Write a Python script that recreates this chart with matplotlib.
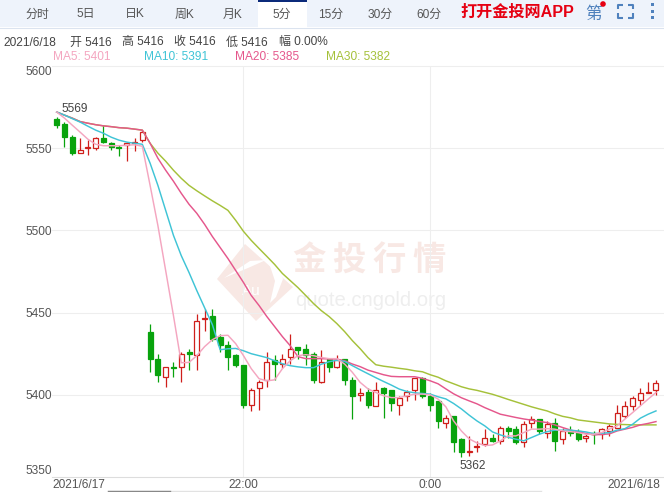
import matplotlib
matplotlib.use('Agg')
import matplotlib.pyplot as plt
from matplotlib.patches import Rectangle, Polygon, Circle

plt.rcParams['font.family'] = ['Liberation Sans', 'Noto Sans CJK SC', 'DejaVu Sans']

# candle values
opens = [5568, 5565, 5557, 5547, 5550, 5550, 5556, 5553, 5551, 5552, 5553, 5555, 5438, 5422, 5411, 5417, 5417, 5426, 5424, 5446,
         5448, 5435, 5430, 5424, 5418, 5394, 5404, 5409, 5421, 5419, 5423, 5429, 5428, 5425, 5408, 5422, 5417, 5422, 5409, 5400,
         5402, 5393, 5404, 5403, 5394, 5399, 5403, 5410, 5399, 5396, 5383, 5387, 5373, 5365, 5368, 5370, 5374, 5372, 5380, 5379,
         5371, 5383, 5385, 5377, 5383, 5373, 5378, 5378, 5374, 5377, 5376, 5378, 5380, 5387, 5393, 5397, 5401, 5403]
closes = [5564, 5557, 5547, 5549, 5551, 5556, 5554, 5551, 5550, 5553, 5554, 5560, 5422, 5412, 5417, 5416, 5425, 5425, 5445, 5447,
          5434, 5430, 5423, 5418, 5394, 5403, 5408, 5420, 5419, 5422, 5428, 5427, 5424, 5409, 5420, 5417, 5421, 5409, 5399, 5401,
          5394, 5403, 5401, 5395, 5398, 5402, 5410, 5399, 5394, 5384, 5386, 5371, 5365, 5366, 5369, 5374, 5372, 5380, 5378, 5371,
          5382, 5385, 5378, 5382, 5372, 5378, 5377, 5373, 5375, 5376, 5379, 5381, 5389, 5393, 5398, 5401, 5402, 5407]
highs = [5569, 5566, 5558, 5556, 5555, 5557, 5564, 5554, 5552, 5554, 5556, 5561, 5443, 5425, 5417, 5420, 5426, 5428, 5449, 5452,
         5452, 5437, 5433, 5425, 5418, 5404, 5409, 5426, 5424, 5425, 5437, 5429, 5431, 5426, 5427, 5422, 5424, 5422, 5411, 5404,
         5404, 5408, 5405, 5403, 5399, 5403, 5410, 5411, 5401, 5396, 5388, 5387, 5374, 5375, 5372, 5379, 5376, 5381, 5381, 5381,
         5384, 5387, 5385, 5384, 5386, 5380, 5381, 5379, 5376, 5378, 5380, 5382, 5394, 5396, 5399, 5404, 5408, 5409]
lows = [5562, 5551, 5546, 5547, 5546, 5549, 5553, 5549, 5545, 5542, 5548, 5554, 5414, 5408, 5405, 5411, 5408, 5415, 5415, 5439,
        5433, 5426, 5415, 5417, 5392, 5390, 5391, 5405, 5409, 5416, 5419, 5422, 5418, 5407, 5407, 5414, 5416, 5406, 5385, 5396,
        5392, 5393, 5386, 5390, 5388, 5396, 5397, 5398, 5390, 5380, 5380, 5365, 5362, 5363, 5365, 5369, 5371, 5370, 5374, 5370,
        5368, 5380, 5376, 5374, 5366, 5370, 5375, 5372, 5371, 5370, 5373, 5375, 5380, 5386, 5391, 5394, 5401, 5400]

ma5 = [5572, 5568.3, 5564, 5559.8, 5555.5, 5552.4, 5551.5, 5551.5, 5551.5, 5551.8, 5552.1, 5551.2, 5527.4, 5503, 5475.6, 5448.2,
       5419.5, 5419.7, 5423.8, 5429.3, 5433.5, 5436, 5436.2, 5431.1, 5423.8, 5415.9, 5409.8, 5408.5, 5409.1, 5415.9, 5420.7, 5423.8,
       5424.4, 5423.8, 5422.7, 5422, 5422, 5418.7, 5413.6, 5407.5, 5403.6, 5401.4, 5399.4, 5398.3, 5398.3, 5399.4, 5400.4, 5400.4,
       5400, 5397.4, 5392.7, 5384.1, 5378, 5373.2, 5370.7, 5369.1, 5369.5, 5372, 5375, 5375, 5377, 5379.1, 5379.1, 5379.4, 5379.1,
       5378, 5377.6, 5377, 5376, 5376, 5377, 5379.1, 5381.1, 5385.2, 5389.2, 5393.3, 5397.4, 5401.4]
ma10 = [5572, 5570.1, 5568, 5565.9, 5563.4, 5561, 5559.1, 5556.7, 5554.9, 5553.7, 5553, 5552.4, 5540.9, 5527.4, 5512.2, 5497,
        5484.7, 5474.4, 5463.4, 5453, 5442.7, 5427.4, 5428, 5428.2, 5426.8, 5425, 5423.8, 5422.6, 5420.7, 5418.9, 5417.7, 5417,
        5416.5, 5416.5, 5418.6, 5420.1, 5421, 5420.3, 5417.7, 5415.2, 5412.8, 5410.4, 5408.1, 5405.9, 5403.5, 5402, 5401.2, 5400.8,
        5400.4, 5398.8, 5397.5, 5394.7, 5391.4, 5387.6, 5384.1, 5381.1, 5377.4, 5375.6, 5374.2, 5373, 5372, 5374, 5376, 5377.6, 5378.5,
        5378.5, 5378.5, 5378, 5377.4, 5376.4, 5376.6, 5377, 5378.5, 5379.4, 5382.1, 5385.8, 5388.2, 5390.2]
ma20 = [5572, 5570.1, 5568.3, 5566.2, 5565.2, 5564.3, 5563.6, 5563.1, 5562.5, 5562.2, 5561.6, 5561, 5553, 5543.9, 5536.6, 5529.9,
        5522.6, 5515.9, 5510.4, 5503.7, 5496.3, 5489.6, 5482.9, 5475.6, 5468.3, 5460.4, 5454.3, 5447.6, 5441.5, 5435.4, 5429.9, 5423.2,
        5422, 5422, 5422, 5421.8, 5421.7, 5420.7, 5418.7, 5417.1, 5415, 5413.6, 5412.2, 5411.2, 5411, 5411, 5411, 5410,
        5408.5, 5406.7, 5403.6, 5400.6, 5398.2, 5396.3, 5394.5, 5392.2, 5390.2, 5388.2, 5387.2, 5386.2, 5385.3, 5384.6, 5383.8, 5383.1, 5381.7,
        5380.1, 5378.6, 5377.4, 5376.5, 5375.6, 5375.9, 5376.2, 5378, 5379.1, 5380.2, 5381.7, 5382.6, 5383.7]
ma30 = [5572, 5570.1, 5568.3, 5566.2, 5565.2, 5564.3, 5563.6, 5563.1, 5562.5, 5562.2, 5561.6, 5561, 5553, 5547, 5542.1, 5536.6,
        5531.7, 5527.4, 5524.1, 5521, 5518, 5515.2, 5512.2, 5506.1, 5499.4, 5493.9, 5489, 5484.2, 5479.3, 5473.8, 5469.5, 5465.2,
        5460.4, 5455.5, 5451.2, 5447.6, 5443.3, 5438.4, 5432.9, 5428, 5422.6, 5418.3, 5417.4, 5416.8, 5416.1, 5415.5, 5414.6, 5414,
        5412.2, 5410.7, 5408.5, 5406.7, 5404.9, 5403.6, 5402.7, 5401.5, 5400.3, 5398.8, 5397.2, 5395.7, 5394.2, 5392.7, 5391.4, 5390.2, 5388.4,
        5386.9, 5386, 5384.7, 5384.1, 5383.5, 5382.9, 5382.3, 5382, 5381.9, 5381.7, 5381.7, 5381.7, 5381.7]

y_ticks = [5350, 5400, 5450, 5500, 5550, 5600]
time_ticks = [-0.6, 24, 48, 77.6]
time_labels = ['2021/6/17', '22:00', '0:00', '2021/6/18']
tabs = ['分时', '5日', '日K', '周K', '月K', '5分', '15分', '30分', '60分']
header_items = ['2021/6/18', '开 5416', '高 5416', '收 5416', '低 5416', '幅 0.00%']
ma_labels = ['MA5: 5401', 'MA10: 5391', 'MA20: 5385', 'MA30: 5382']

RED = '#cf1f1b'
GREEN = '#08a30d'
MA_COLORS = ['#f4a6c0', '#3fc4d6', '#e5578c', '#a5c13a']

fig = plt.figure(figsize=(6.64, 4.92), dpi=100)

# background layer in pixel coordinates for the toolbar, header and watermark
bg = fig.add_axes([0, 0, 1, 1], zorder=0)
bg.set_xlim(0, 664)
bg.set_ylim(492, 0)
bg.axis('off')

bg.add_patch(Rectangle((0, 0), 664, 27, fc='#eef3fb', ec='none'))
bg.plot([0, 664], [27.5, 27.5], color='#dbe3ef', lw=0.8)
bg.add_patch(Rectangle((258, 0), 48.5, 28, fc='white', ec='none', zorder=3))
bg.add_patch(Rectangle((258, 0), 48.5, 2, fc='#0b2a7a', ec='none', zorder=4))
tab_x = [37, 86, 135, 184, 233, 282, 331, 380, 429]
for x, t in zip(tab_x, tabs):
    bg.text(x, 14.5, t, ha='center', va='center', fontsize=8.6, color='#555555', zorder=5)

bg.text(460, 12.5, '打开金投网APP', ha='left', va='center', fontsize=11.6, color='#e60012', fontweight='bold', zorder=5)
bg.text(594, 14, '第', ha='center', va='center', fontsize=12, color='#4f81bd', zorder=5)
bg.add_patch(Circle((603, 4), 2.8, fc='#e60012', ec='none', zorder=6))
corner = {'color': '#4f81bd', 'lw': 1.5, 'solid_capstyle': 'butt', 'zorder': 5}
bg.plot([618, 618, 623], [9, 4.5, 4.5], **corner)
bg.plot([628, 632.5, 632.5], [4.5, 4.5, 9], **corner)
bg.plot([618, 618, 623], [13, 17.5, 17.5], **corner)
bg.plot([628, 632.5, 632.5], [17.5, 17.5, 13], **corner)
for y in [4.5, 11, 17]:
    bg.add_patch(Rectangle((650.5, y - 1.5), 3, 3, fc='#4f81bd', ec='none', zorder=5))

for x, t in zip([3, 70, 122, 174.5, 226.5, 279], header_items):
    bg.text(x, 42.5, t, ha='left', va='center', fontsize=8.6, color='#444444')
for x, t, c in zip([53, 144, 235, 326], ma_labels, MA_COLORS):
    bg.text(x, 57.5, t, ha='left', va='center', fontsize=8.6, color=c)

# watermark
WM = '#f8e8e4'
bg.add_patch(Polygon([(217, 279), (245, 244), (293, 287), (256, 321)], fc=WM, ec='none'))
bg.add_patch(Polygon([(224, 278), (248, 268), (266, 260), (250, 261)], fc='white', ec='none'))
bg.add_patch(Polygon([(262, 254), (276, 262), (283, 279), (276, 297), (270, 303), (275, 281), (270, 266)], fc='white', ec='none'))
bg.text(251, 291, 'Au', ha='center', va='center', fontsize=11, color='white')
for x, ch in zip([309, 349, 389, 429], '金投行情'):
    bg.text(x, 261, ch, ha='center', va='center', fontsize=24, color=WM, fontweight='bold')
bg.text(370.5, 301, 'quote.cngold.org', ha='center', va='center', fontsize=14.6, color='#eeeeee')

# scrollbar remnant under the axis
bg.plot([108, 541], [491.3, 491.3], color='#e2e2e2', lw=1)
bg.plot([108, 170], [491.3, 491.3], color='#888888', lw=1)

# main chart
ax = fig.add_axes([52 / 664, 15 / 492, 612 / 664, 411 / 492], zorder=1)
ax.patch.set_alpha(0)
ax.set_xlim(-0.604, 78.03)
ax.set_ylim(5350, 5600)

for spine in ['left', 'right']:
    ax.spines[spine].set_visible(False)
ax.spines['top'].set_color('#eeeeee')
ax.spines['bottom'].set_color('#dddddd')
ax.spines['top'].set_linewidth(0.8)
ax.spines['bottom'].set_linewidth(0.8)

ax.set_yticks(y_ticks)
ax.set_xticks(time_ticks, time_labels)
ax.tick_params(length=0, labelsize=8.6, labelcolor='#555555')
ax.tick_params(axis='y', pad=0)
ax.tick_params(axis='x', pad=1.5)
ylabels = ax.get_yticklabels()
ylabels[0].set_va('bottom')
ylabels[-1].set_va('top')
xlabels = ax.get_xticklabels()
xlabels[0].set_ha('left')
xlabels[-1].set_ha('right')

for y in y_ticks[1:-1]:
    ax.axhline(y, color='#eeeeee', lw=0.8, zorder=0)
for x in time_ticks[1:3]:
    ax.axvline(x, color='#eeeeee', lw=0.8, zorder=0)

# candles, red hollow when up and green filled when down
for i in range(len(opens)):
    up = closes[i] >= opens[i]
    color = RED if up else GREEN
    ax.vlines(i, lows[i], highs[i], color=color, lw=0.9, zorder=2)
    ax.bar(i, abs(closes[i] - opens[i]), bottom=min(opens[i], closes[i]), width=0.64,
           facecolor='white' if up else GREEN, edgecolor=color, linewidth=0.9, zorder=3)

xs = list(range(len(ma5)))
ax.plot(xs, ma30, color=MA_COLORS[3], lw=1.05, zorder=4)
ax.plot(xs, ma20, color=MA_COLORS[2], lw=1.05, zorder=5)
ax.plot(xs, ma10, color=MA_COLORS[1], lw=1.05, zorder=6)
ax.plot(xs, ma5, color=MA_COLORS[0], lw=1.05, zorder=7)

# high and low markers
ax.annotate('5569', (0, max(highs)), xytext=(3.2, 5.6), textcoords='offset points',
            ha='left', va='center', fontsize=8.6, color='#444444', zorder=8)
ax.annotate('5362', (52, min(lows)), xytext=(-1.5, -6.2), textcoords='offset points',
            ha='left', va='center', fontsize=8.6, color='#444444', zorder=8)

fig.savefig('out.png', dpi=100)
